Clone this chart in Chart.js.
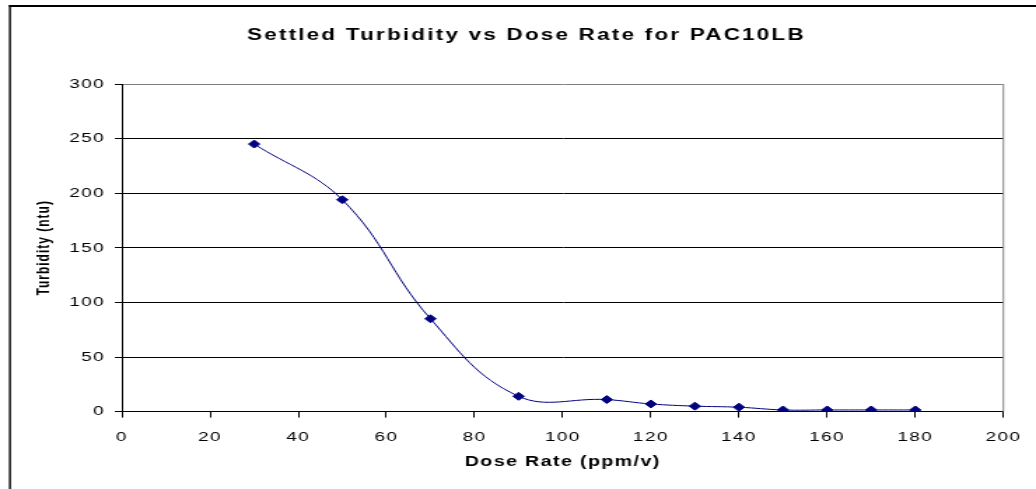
<!DOCTYPE html>
<html>
<head>
<meta charset="utf-8">
<script src="https://cdn.jsdelivr.net/npm/chart.js@4.4.1/dist/chart.umd.min.js"></script>
<style>
  html, body { margin: 0; padding: 0; background: #fff; }
</style>
</head>
<body>
<!-- drawn narrow and stretched sideways, like the original picture -->
<canvas id="chart" width="740" height="489" style="display:block;width:1036px;height:489px"></canvas>
<script>
const titleText = "Settled Turbidity vs Dose Rate for PAC10LB";
const xTitle = "Dose Rate (ppm/v)";
const yTitle = "Turbidity (ntu)";

const doseRate = [30, 50, 70, 90, 110, 120, 130, 140, 150, 160, 170, 180];
const turbidity = [245, 194, 85, 14, 11, 7, 5, 4, 1.5, 1.5, 1.5, 1.5];

const FONT = '"Liberation Sans", Arial, sans-serif';
Chart.defaults.font.family = FONT;
Chart.defaults.color = "#000";

const frame = {
  id: "frame",
  beforeDraw(chart) {
    chart.ctx.letterSpacing = "1px";
  },
  afterDraw(chart) {
    const { ctx, chartArea: a } = chart;
    ctx.save();
    // right edge of the plot area
    ctx.strokeStyle = "#808080";
    ctx.lineWidth = 1;
    ctx.beginPath();
    ctx.moveTo(a.right, a.top);
    ctx.lineTo(a.right, a.bottom);
    ctx.stroke();
    // outer chart border (left + top)
    ctx.fillStyle = "#000";
    ctx.fillRect(6.4, 5, 1.4, chart.height);
    ctx.fillRect(6.4, 5, chart.width, 2);
    // title
    ctx.letterSpacing = "1.6px";
    ctx.font = "bold 16px " + FONT;
    ctx.textAlign = "center";
    ctx.textBaseline = "middle";
    ctx.fillText(titleText, 376, 36);
    ctx.restore();
  }
};

new Chart(document.getElementById("chart"), {
  type: "line",
  data: {
    datasets: [{
      data: doseRate.map((x, i) => ({ x: x, y: turbidity[i] })),
      borderColor: "#000080",
      backgroundColor: "#000080",
      borderWidth: 1,
      pointStyle: "rectRot",
      pointRadius: 4,
      pointBorderWidth: 1,
      tension: 0.4,
      fill: false
    }]
  },
  plugins: [frame],
  options: {
    responsive: false,
    animation: false,
    devicePixelRatio: 1,
    layout: {
      padding: { left: 20.3, right: 20.7, top: 84, bottom: 0 }
    },
    plugins: {
      legend: { display: false },
      title: { display: false },
      tooltip: { enabled: false }
    },
    scales: {
      x: {
        type: "linear",
        min: 0,
        max: 200,
        afterFit: (s) => { s.height = 77.4; },
        ticks: {
          stepSize: 20,
          maxRotation: 0,
          padding: 12,
          font: { size: 13.5 }
        },
        grid: {
          drawOnChartArea: false,
          drawTicks: true,
          tickLength: 6,
          color: "#000"
        },
        border: { color: "#000", width: 1 },
        title: {
          display: true,
          text: xTitle,
          font: { size: 14, weight: "bold" },
          padding: { top: 4, bottom: 18.6 }
        }
      },
      y: {
        min: 0,
        max: 300,
        afterFit: (s) => { s.width = 66.8; },
        ticks: {
          stepSize: 50,
          padding: 7,
          font: { size: 13.5 }
        },
        grid: {
          color: (c) => (c.tick && c.tick.value === 300 ? "#808080" : "#000"),
          tickColor: "#000",
          tickLength: 5,
          lineWidth: 1
        },
        border: { color: "#000", width: 1 },
        title: {
          display: true,
          text: yTitle,
          font: { size: 12, weight: "bold" },
          padding: { top: 4, bottom: 4 }
        }
      }
    }
  }
});
</script>
</body>
</html>
